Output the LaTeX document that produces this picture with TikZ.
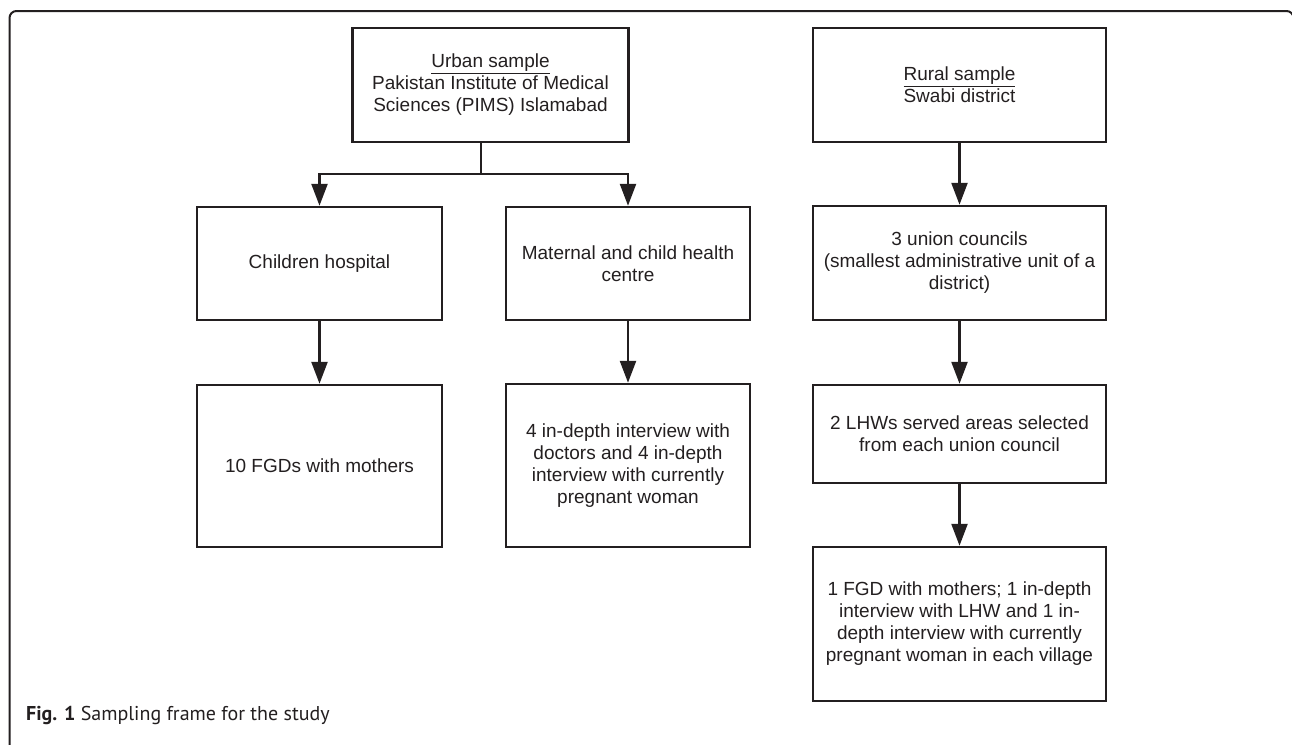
\documentclass[tikz,border=0pt]{standalone}
\usepackage{fontspec}
\setmainfont{Liberation Sans}
\newfontfamily\capfont{PT Sans}
\usetikzlibrary{arrows.meta}
\definecolor{ink}{HTML}{231F20}
\begin{document}
\begin{tikzpicture}[x=1pt,y=-1pt,
  box/.style={draw=ink, line width=2.5pt, inner sep=0pt, align=center, text=ink,
    font=\fontsize{19}{22}\selectfont},
  link/.style={draw=ink, line width=2.5pt},
  arr/.style={draw=ink, line width=2.5pt, -{Triangle[length=22pt 0 0,width=16pt 0 0]}}]
\useasboundingbox (0,0) rectangle (1292,744);
% outer frame
\draw[ink, line width=2pt, rounded corners=7pt] (9.5,760) -- (9.5,11) -- (1293.5,11) -- (1293.5,760);
% boxes
\node[box, minimum width=276pt, minimum height=114pt] (urban) at (490.5,85)
  {\underline{Urban sample}\\Pakistan Institute of Medical\\Sciences (PIMS) Islamabad};
\node[box, minimum width=293pt, minimum height=114pt] (rural) at (959.5,85)
  {\underline{Rural sample}\\Swabi district};
\node[box, minimum width=245pt, minimum height=113pt] (child) at (319.5,263.5)
  {Children hospital};
\node[box, minimum width=244pt, minimum height=113pt] (mch) at (628,263.5)
  {Maternal and child health\\centre};
\node[box, minimum width=293pt, minimum height=114pt] (uc) at (959.5,263)
  {3 union councils\\(smallest administrative unit of a\\district)};
\node[box, minimum width=245pt, minimum height=162pt] (fgd) at (319.5,466)
  {10 FGDs with mothers};
\node[box, minimum width=244pt, minimum height=163pt] (idi) at (628,465.5)
  {4 in-depth interview with\\doctors and 4 in-depth\\interview with currently\\pregnant woman};
\node[box, minimum width=293pt, minimum height=98pt] (lhw) at (959.5,434)
  {2 LHWs served areas selected\\from each union council};
\node[box, minimum width=293pt, minimum height=154pt] (last) at (959.5,624)
  {1 FGD with mothers; 1 in-depth\\interview with LHW and 1 in-\\depth interview with currently\\pregnant woman in each village};
% connectors
\coordinate (split) at (481,174);
\draw[link] ([xshift=-9.5pt]urban.south) -- (split);
\draw[arr] (split) -| (child.north);
\draw[arr] (split) -| (mch.north);
\draw[arr] (child.south) -- (fgd.north);
\draw[arr] (mch.south) -- (idi.north);
\draw[arr] (rural.south) -- (uc.north);
\draw[arr] (uc.south) -- (lhw.north);
\draw[arr] (lhw.south) -- (last.north);
% caption
\node[anchor=base west, inner sep=0pt, text=ink, font=\capfont\fontsize{20}{22}\selectfont] (cap) at (26,720)
  {\textbf{Fig. 1} Sampling frame for the study};
\end{tikzpicture}
\end{document}
